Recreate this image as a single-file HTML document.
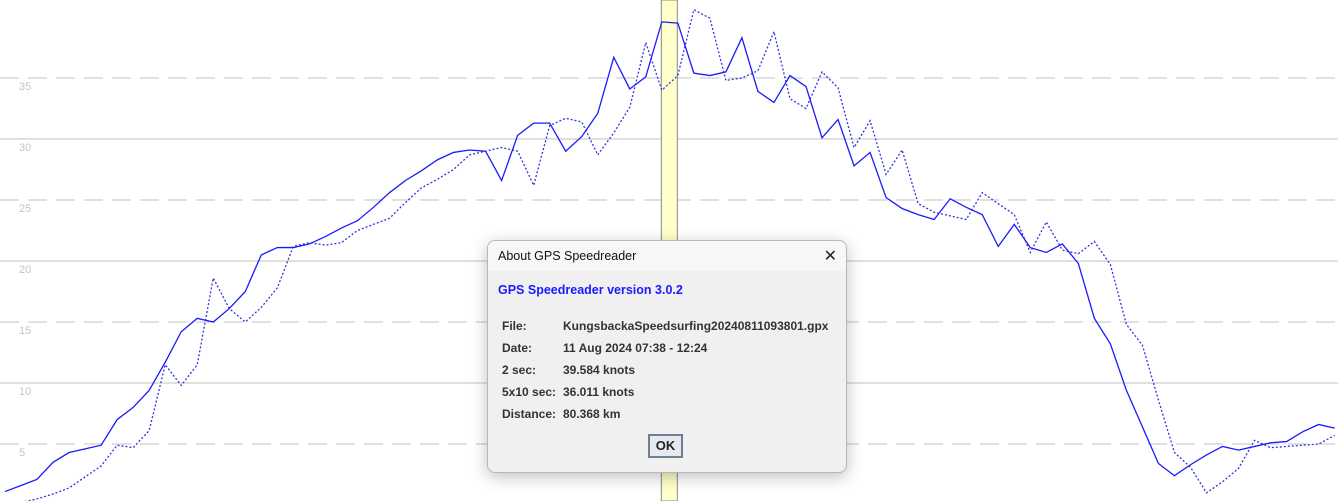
<!DOCTYPE html>
<html><head><meta charset="utf-8"><style>
body{margin:0;width:1338px;height:501px;overflow:hidden;background:#fff;font-family:"Liberation Sans",sans-serif;position:relative}
#dlg{position:absolute;left:487px;top:240px;width:358px;height:231px;background:#f0f0f0;border:1px solid #b8b8b8;border-radius:8px;box-shadow:0 4px 16px rgba(0,0,0,0.25);overflow:hidden}
#tb{height:30px;background:#f7f7f7;position:relative}
#ttl{position:absolute;left:10px;top:8px;font-size:12.5px;color:#111}
#cls{position:absolute;right:9px;top:5px;font-size:16px;color:#222}
.t{position:absolute;font-size:12px;font-weight:bold;color:#333}
#ok{position:absolute;left:160px;top:193px;width:35px;height:24px;border:2px solid #6f7f90;background:#e6eaf0;font-size:13px;font-weight:bold;text-align:center;line-height:20px;color:#222;box-sizing:border-box}
</style></head><body>
<svg id="chart" width="1338" height="501" style="position:absolute;left:0;top:0"></svg>
<div id="dlg">
<div id="tb"><div id="ttl">About GPS Speedreader</div><div id="cls">✕</div></div>
<div class="t" style="left:10px;top:42px;color:#1a1aff;font-size:12.5px">GPS Speedreader version 3.0.2</div>
<div class="t" style="left:14px;top:78px">File:</div>
<div class="t" style="left:75px;top:78px">KungsbackaSpeedsurfing20240811093801.gpx</div>
<div class="t" style="left:14px;top:100px">Date:</div>
<div class="t" style="left:75px;top:100px">11 Aug 2024 07:38 - 12:24</div>
<div class="t" style="left:14px;top:122px">2 sec:</div>
<div class="t" style="left:75px;top:122px">39.584 knots</div>
<div class="t" style="left:14px;top:144px">5x10 sec:</div>
<div class="t" style="left:75px;top:144px">36.011 knots</div>
<div class="t" style="left:14px;top:166px">Distance:</div>
<div class="t" style="left:75px;top:166px">80.368 km</div>
<div id="ok">OK</div>
</div>
<script>
const yTicks=[5,10,15,20,25,30,35];
const speedSolid=[1.1,1.6,2.1,3.5,4.3,4.6,4.9,7.0,8.0,9.4,11.7,14.2,15.3,15.0,16.1,17.5,20.5,21.1,21.1,21.4,22.0,22.7,23.3,24.4,25.6,26.6,27.4,28.3,28.9,29.1,29.0,26.6,30.3,31.3,31.3,29.0,30.2,32.1,36.7,34.1,35.1,39.6,39.5,35.4,35.2,35.5,38.3,33.9,33.0,35.2,34.3,30.1,31.6,27.8,28.9,25.2,24.3,23.8,23.4,25.1,24.4,23.8,21.2,23.0,21.1,20.7,21.4,19.8,15.3,13.2,9.4,6.4,3.4,2.4,3.3,4.1,4.8,4.5,4.8,5.1,5.2,6.0,6.6,6.3];
const speedDotted=[0,0.2,0.5,0.9,1.4,2.3,3.2,4.9,4.7,6.1,11.5,9.8,11.5,18.6,16.1,15.0,16.2,17.8,21.2,21.5,21.3,21.5,22.5,23.0,23.5,24.8,26.0,26.7,27.5,28.7,29.0,29.3,29.0,26.2,31.1,31.7,31.4,28.7,30.5,32.6,37.9,34.0,35.2,40.6,39.9,34.8,35.0,35.6,38.8,33.3,32.5,35.5,34.2,29.3,31.5,27.1,29.1,24.7,24.0,23.7,23.4,25.6,24.7,23.8,20.7,23.2,20.9,20.6,21.6,19.7,14.8,13.1,8.6,4.3,3.1,1.0,1.9,3.0,5.3,4.7,4.8,4.9,5.0,5.7];
const highlightIndex=41;
const NS="http://www.w3.org/2000/svg";
const svg=document.getElementById('chart');
const X=i=>5+16.02*i, Y=v=>505-12.2*v;
function mk(t,a){const e=document.createElementNS(NS,t);for(const k in a)e.setAttribute(k,a[k]);svg.appendChild(e);return e;}
yTicks.forEach(v=>{
  const l=mk('line',{x1:0,x2:1338,y1:Y(v),y2:Y(v),stroke:'#c0c0c0','stroke-width':1,'stroke-dasharray':v%10?'19,9':'none'});
  
  
  const t=mk('text',{x:19,y:Y(v)+12,fill:'#c4c4c4','font-size':11,'font-family':'Liberation Sans,sans-serif'});
  t.textContent=v;
  
  
});
const hb=mk('rect',{x:X(highlightIndex)-0.5,y:0,width:16,height:501,fill:'#ffffcc',stroke:'#888','stroke-width':1});


const pd=mk('polyline',{points:speedDotted.map((v,i)=>X(i)+','+Y(v)).join(' '),fill:'none',stroke:'#3333dd','stroke-width':1.3,'stroke-dasharray':'2,2'});


const ps=mk('polyline',{points:speedSolid.map((v,i)=>X(i)+','+Y(v)).join(' '),fill:'none',stroke:'#1a1aff','stroke-width':1.3});


</script>
</body></html>
